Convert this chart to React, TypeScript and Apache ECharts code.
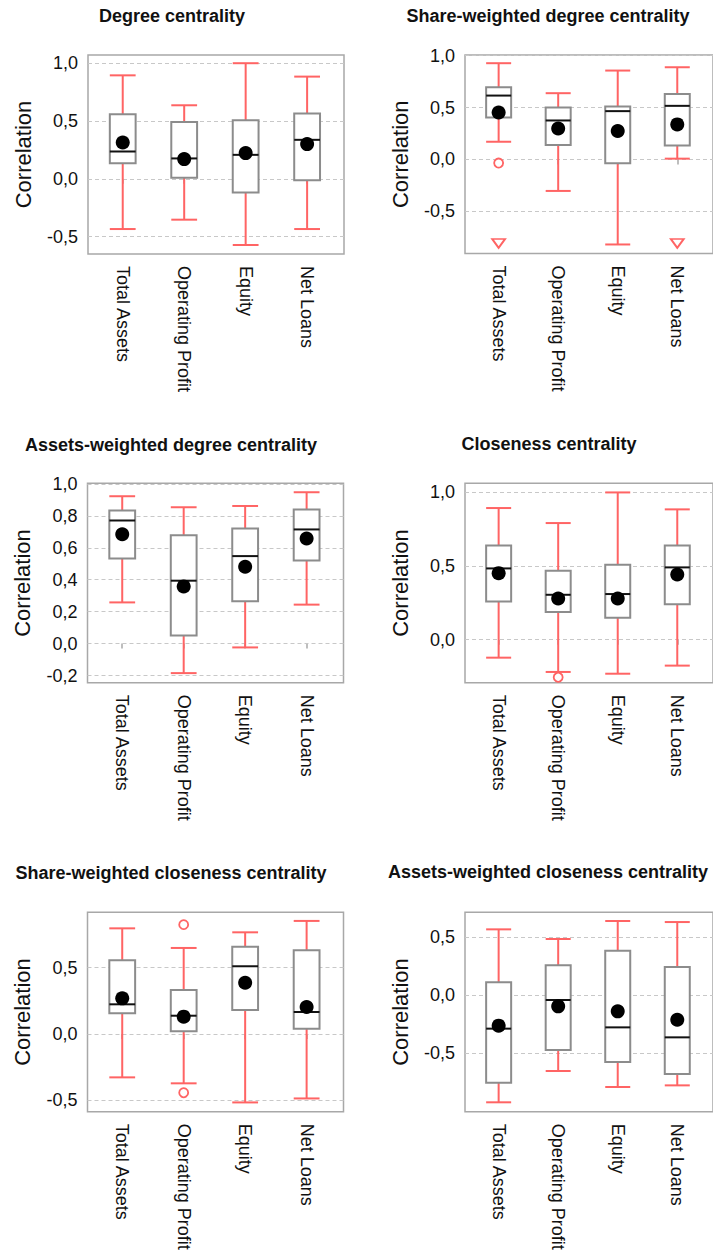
import React, { useEffect, useRef } from "react";
import * as echarts from "echarts";

// ---------- data ----------
const categories = ["Total Assets", "Operating Profit", "Equity", "Net Loans"];

// each box: [lower whisker, Q1, median, Q3, upper whisker]
const degreeBoxes = [
  [-0.435, 0.135, 0.236, 0.559, 0.895],
  [-0.354, 0.009, 0.176, 0.492, 0.636],
  [-0.573, -0.118, 0.207, 0.507, 1.0],
  [-0.435, -0.012, 0.337, 0.564, 0.884],
];
const degreeMeans = [0.314, 0.17, 0.222, 0.3];
const degreeOutliers: number[][] = [];
const degreeOffscale: number[][] = [];
const degreeRange = [-0.651, 1.071];
const degreeTicks = [-0.5, 0, 0.5, 1.0];

const shareDegreeBoxes = [
  [0.17, 0.404, 0.615, 0.696, 0.927],
  [-0.304, 0.138, 0.375, 0.5, 0.638],
  [-0.82, -0.038, 0.465, 0.51, 0.856],
  [0.007, 0.135, 0.516, 0.629, 0.888],
];
const shareDegreeMeans = [0.452, 0.298, 0.273, 0.337];
const shareDegreeOutliers = [[1, -0.035]];
const shareDegreeOffscale = [[1, -0.81], [4, -0.81]];
const shareDegreeRange = [-0.907, 1.006];
const shareDegreeTicks = [-0.5, 0, 0.5, 1.0];

const assetsDegreeBoxes = [
  [0.258, 0.533, 0.771, 0.833, 0.923],
  [-0.185, 0.05, 0.394, 0.679, 0.854],
  [-0.024, 0.265, 0.548, 0.721, 0.862],
  [0.244, 0.521, 0.715, 0.84, 0.948],
];
const assetsDegreeMeans = [0.685, 0.358, 0.481, 0.658];
const assetsDegreeOutliers: number[][] = [];
const assetsDegreeOffscale: number[][] = [];
const assetsDegreeRange = [-0.245, 1.004];
const assetsDegreeTicks = [-0.2, 0, 0.2, 0.4, 0.6, 0.8, 1.0];

const closenessBoxes = [
  [-0.122, 0.26, 0.484, 0.64, 0.894],
  [-0.219, 0.188, 0.305, 0.468, 0.792],
  [-0.231, 0.149, 0.31, 0.509, 1.0],
  [-0.176, 0.24, 0.491, 0.64, 0.885],
];
const closenessMeans = [0.452, 0.28, 0.28, 0.443];
const closenessOutliers = [[2, -0.255]];
const closenessOffscale: number[][] = [];
const closenessRange = [-0.292, 1.062];
const closenessTicks = [0, 0.5, 1.0];

const shareClosenessBoxes = [
  [-0.327, 0.156, 0.224, 0.556, 0.797],
  [-0.372, 0.02, 0.138, 0.332, 0.649],
  [-0.516, 0.181, 0.511, 0.659, 0.767],
  [-0.486, 0.04, 0.166, 0.631, 0.853],
];
const shareClosenessMeans = [0.269, 0.131, 0.387, 0.204];
const shareClosenessOutliers = [[2, 0.825], [2, -0.443]];
const shareClosenessOffscale: number[][] = [];
const shareClosenessRange = [-0.586, 0.918];
const shareClosenessTicks = [-0.5, 0, 0.5];

const assetsClosenessBoxes = [
  [-0.925, -0.756, -0.29, 0.109, 0.566],
  [-0.655, -0.474, -0.043, 0.256, 0.483],
  [-0.793, -0.578, -0.279, 0.382, 0.638],
  [-0.779, -0.681, -0.365, 0.241, 0.629],
];
const assetsClosenessMeans = [-0.264, -0.098, -0.141, -0.213];
const assetsClosenessOutliers: number[][] = [];
const assetsClosenessOffscale: number[][] = [];
const assetsClosenessRange = [-1.006, 0.713];
const assetsClosenessTicks = [-0.5, 0, 0.5];

const panelTitles = [
  "Degree centrality",
  "Share-weighted degree centrality",
  "Assets-weighted degree centrality",
  "Closeness centrality",
  "Share-weighted closeness centrality",
  "Assets-weighted closeness centrality",
];

const panels = [
  { boxes: degreeBoxes, means: degreeMeans, outliers: degreeOutliers, offscale: degreeOffscale, range: degreeRange, ticks: degreeTicks },
  { boxes: shareDegreeBoxes, means: shareDegreeMeans, outliers: shareDegreeOutliers, offscale: shareDegreeOffscale, range: shareDegreeRange, ticks: shareDegreeTicks },
  { boxes: assetsDegreeBoxes, means: assetsDegreeMeans, outliers: assetsDegreeOutliers, offscale: assetsDegreeOffscale, range: assetsDegreeRange, ticks: assetsDegreeTicks },
  { boxes: closenessBoxes, means: closenessMeans, outliers: closenessOutliers, offscale: closenessOffscale, range: closenessRange, ticks: closenessTicks },
  { boxes: shareClosenessBoxes, means: shareClosenessMeans, outliers: shareClosenessOutliers, offscale: shareClosenessOffscale, range: shareClosenessRange, ticks: shareClosenessTicks },
  { boxes: assetsClosenessBoxes, means: assetsClosenessMeans, outliers: assetsClosenessOutliers, offscale: assetsClosenessOffscale, range: assetsClosenessRange, ticks: assetsClosenessTicks },
];

// ---------- layout / style ----------
const gridLayouts = [
  { left: 88, top: 55, width: 256, height: 199 },
  { left: 465, top: 55, width: 257, height: 198.5 },
  { left: 87.5, top: 483.3, width: 256, height: 199.4 },
  { left: 465, top: 483.3, width: 257, height: 199.4 },
  { left: 87.5, top: 912.3, width: 256, height: 199.4 },
  { left: 465, top: 912.3, width: 257, height: 199.4 },
];
const titlePos = [
  { x: 172, y: 7 },
  { x: 548, y: 7 },
  { x: 171, y: 436 },
  { x: 549, y: 435 },
  { x: 171, y: 864 },
  { x: 548, y: 863 },
];

const FONT = "Arial, 'Liberation Sans', Helvetica, sans-serif";
const RED = "#ff6464";
const BOX_GRAY = "#8c8c8c";
const BOX_W = 0.42;

function fmt(v: number) {
  return v.toFixed(1).replace(".", ",").replace("-0,0", "0,0");
}

function buildOption() {
  const grid: any[] = [];
  const xAxis: any[] = [];
  const yAxis: any[] = [];
  const series: any[] = [];
  const title: any[] = [];

  panels.forEach((p, i) => {
    grid.push({
      ...gridLayouts[i],
      show: true,
      borderColor: "#a8a8a8",
      borderWidth: 1.5,
      backgroundColor: "transparent",
      containLabel: false,
    });
    title.push({
      text: panelTitles[i],
      left: titlePos[i].x,
      top: titlePos[i].y,
      textAlign: "center",
      padding: 0,
      textStyle: { fontFamily: FONT, fontWeight: "bold", fontSize: 18, color: "#111" },
    });
    xAxis.push({
      type: "value",
      gridIndex: i,
      min: 0.435,
      max: 4.6,
      axisLine: { show: false },
      splitLine: { show: false },
      axisTick: {
        show: true,
        customValues: [1, 2, 3, 4],
        length: 5,
        lineStyle: { color: "#a8a8a8", width: 1.5 },
      },
      axisLabel: {
        customValues: [1, 2, 3, 4],
        rotate: -90,
        margin: 12,
        fontFamily: FONT,
        fontSize: 18,
        color: "#111",
        formatter: (v: number) => categories[Math.round(v) - 1] ?? "",
      },
    });
    yAxis.push({
      type: "value",
      gridIndex: i,
      min: p.range[0],
      max: p.range[1],
      name: "Correlation",
      nameLocation: "middle",
      nameGap: 54,
      nameTextStyle: { fontFamily: FONT, fontSize: 22, color: "#111" },
      axisLine: { show: false },
      axisTick: { show: false },
      splitLine: { show: false },
      axisLabel: {
        customValues: p.ticks,
        margin: 10,
        fontFamily: FONT,
        fontSize: 18,
        color: "#111",
        formatter: (v: number) => fmt(v),
      },
    });

    // boxes (custom)
    series.push({
      type: "custom",
      xAxisIndex: i,
      yAxisIndex: i,
      z: 3,
      data: p.boxes.map((b, k) => [k + 1, ...b]),
      encode: { x: 0, y: [1, 2, 3, 4, 5] },
      renderItem: (params: any, api: any) => {
        const x = api.value(0);
        const lo = api.coord([x, api.value(1)]);
        const q1 = api.coord([x, api.value(2)]);
        const md = api.coord([x, api.value(3)]);
        const q3 = api.coord([x, api.value(4)]);
        const hi = api.coord([x, api.value(5)]);
        const hw = api.size([BOX_W, 0])[0] / 2;
        const cx = lo[0];
        const red = { stroke: RED, lineWidth: 2 };
        return {
          type: "group",
          children: [
            { type: "line", shape: { x1: cx, y1: lo[1], x2: cx, y2: q1[1] }, style: red },
            { type: "line", shape: { x1: cx, y1: q3[1], x2: cx, y2: hi[1] }, style: red },
            { type: "line", shape: { x1: cx - hw, y1: lo[1], x2: cx + hw, y2: lo[1] }, style: red },
            { type: "line", shape: { x1: cx - hw, y1: hi[1], x2: cx + hw, y2: hi[1] }, style: red },
            {
              type: "rect",
              shape: { x: cx - hw, y: q3[1], width: hw * 2, height: q1[1] - q3[1] },
              style: { fill: "#fff", stroke: BOX_GRAY, lineWidth: 2 },
            },
            {
              type: "line",
              shape: { x1: cx - hw, y1: md[1], x2: cx + hw, y2: md[1] },
              style: { stroke: "#111", lineWidth: 2 },
            },
          ],
        };
      },
      markLine: {
        silent: true,
        symbol: "none",
        z: 1,
        label: { show: false },
        lineStyle: { type: [4, 3], color: "#c8c8c8", width: 1 },
        data: p.ticks.map((t) => ({ yAxis: t })),
      },
    });

    // means
    series.push({
      type: "scatter",
      xAxisIndex: i,
      yAxisIndex: i,
      z: 5,
      symbol: "circle",
      symbolSize: 14,
      itemStyle: { color: "#000", opacity: 1 },
      data: p.means.map((m, k) => [k + 1, m]),
    });

    // outliers
    if (p.outliers.length) {
      series.push({
        type: "scatter",
        xAxisIndex: i,
        yAxisIndex: i,
        z: 4,
        symbol: "circle",
        symbolSize: 9,
        itemStyle: { color: "#fff", borderColor: RED, borderWidth: 1.8, opacity: 1 },
        data: p.outliers,
      });
    }
    if (p.offscale.length) {
      series.push({
        type: "scatter",
        xAxisIndex: i,
        yAxisIndex: i,
        z: 4,
        symbol: "triangle",
        symbolRotate: 180,
        symbolSize: [13, 9],
        itemStyle: { color: "#fff", borderColor: RED, borderWidth: 1.8, opacity: 1 },
        data: p.offscale,
      });
    }
  });

  return {
    animation: false,
    backgroundColor: "#fff",
    title,
    grid,
    xAxis,
    yAxis,
    series,
  };
}

export default function App() {
  const ref = useRef<HTMLDivElement>(null);
  useEffect(() => {
    if (!ref.current) return;
    const chart = echarts.init(ref.current, undefined, { renderer: "svg" });
    chart.setOption(buildOption() as any);
    return () => chart.dispose();
  }, []);
  return (
    <div
      ref={ref}
      style={{ position: "fixed", left: 0, top: 0, width: 713, height: 1254, background: "#fff" }}
    />
  );
}
